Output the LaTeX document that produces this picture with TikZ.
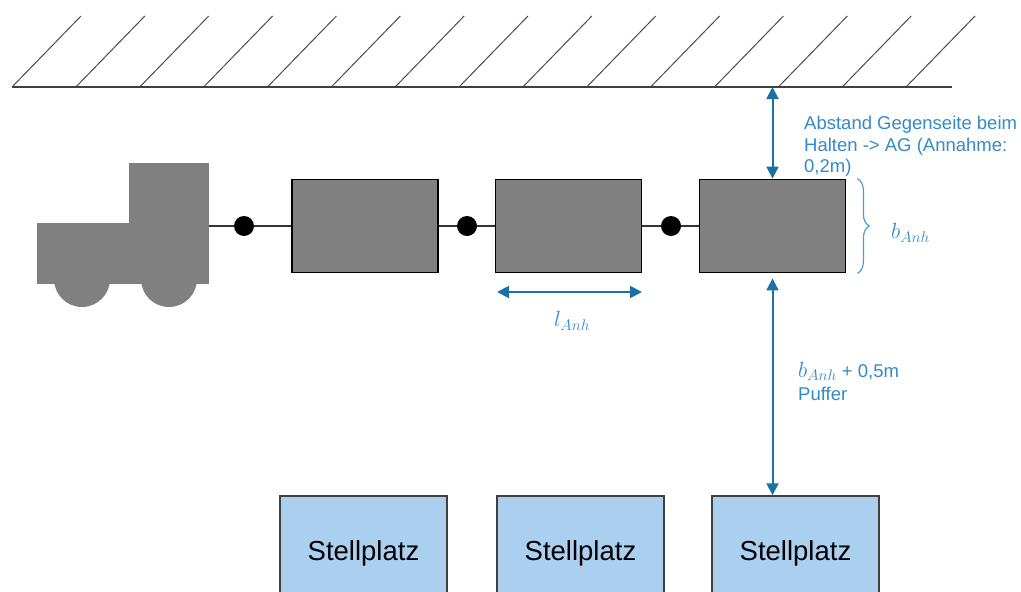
\RequirePackage{fix-cm}
\documentclass[tikz,border=0pt]{standalone}
\usepackage{fontspec}
\setmainfont{Liberation Sans}
\usetikzlibrary{arrows.meta,decorations.pathreplacing}
\definecolor{bodygrey}{RGB}{128,128,128}
\definecolor{dimblue}{RGB}{28,112,165}
\definecolor{labelblue}{RGB}{52,138,198}
\definecolor{bracecol}{RGB}{80,156,210}
\definecolor{slotfill}{RGB}{170,207,239}
\newcommand{\symsize}{\fontsize{22}{24}\selectfont}
\tikzset{
  trailer/.style={draw=black, line width=1.8pt, fill=bodygrey, inner sep=0pt,
    minimum width=146pt, minimum height=93pt},
  hitch/.style={circle, fill=black, inner sep=0pt, minimum size=20pt},
  coupling/.style={draw=black!80, line width=1.2pt},
  dimarrow/.style={draw=dimblue, line width=2pt,
    {Triangle[length=12pt,width=12pt]}-{Triangle[length=12pt,width=12pt]}},
  slot/.style={draw=black!75, line width=1.5pt, fill=slotfill, inner sep=0pt,
    minimum width=167pt, minimum height=114pt, font=\fontsize{27.5}{30}\selectfont},
  note/.style={text=labelblue, font=\fontsize{18.5}{21.5}\selectfont, align=left,
    inner sep=0pt, anchor=north west},
  symbol/.style={text=labelblue, font=\symsize, inner sep=0pt},
  hatch/.style={draw=black!70, line width=1pt}
}
\begin{document}
\begin{tikzpicture}[x=1pt,y=-1pt]
\clip (0,0) rectangle (1021,592);
\fill[white] (0,0) rectangle (1021,592);

% wall with hatching
\coordinate (g1) at (12,87);
\coordinate (g2) at (952,87);
\foreach \i in {0,...,14}
  \draw[hatch] ({12+63.86*\i},87) -- ({81+63.86*\i},16);
\draw[draw=black!75, line width=1.5pt] (g1) -- (g2);

% tractor
\fill[bodygrey] (37,223) rectangle (209,284);
\fill[bodygrey] (129,163) rectangle (209,224);
\fill[bodygrey] (82,279) circle[radius=28];
\fill[bodygrey] (169,279) circle[radius=28];
\coordinate (truck) at (209,226);

% trailers and hitches
\node[trailer] (t1) at (365,226) {};
\node[trailer] (t2) at (568.5,226) {};
\node[trailer] (t3) at (772.5,226) {};
\node[hitch] (d1) at (244,226) {};
\node[hitch] (d2) at (467,226) {};
\node[hitch] (d3) at (671,226) {};
\draw[coupling] (truck) -- (d1) -- (t1);
\draw[coupling] (t1) -- (d2) -- (t2);
\draw[coupling] (t2) -- (d3) -- (t3);

% parking slots
\node[slot] (s1) at (363.5,553) {Stellplatz};
\node[slot] (s2) at (580.5,553) {Stellplatz};
\node[slot] (s3) at (795.5,553) {Stellplatz};

% dimensions
\coordinate (gA) at (772.5,87);
\draw[dimarrow] (gA) -- (t3.north);
\draw[dimarrow, shorten <=5pt] (t3.south) -- (t3.south |- s3.north);
\coordinate (lA) at (497,292);
\coordinate (lB) at (642,292);
\draw[dimarrow] (lA) -- (lB);

\draw[draw=bracecol, line width=1.2pt, decorate,
  decoration={brace, amplitude=12pt, raise=11pt}]
  (t3.north east) -- (t3.south east);

% labels
\node[note] (n1) at (804,116) {Abstand Gegenseite beim\\Halten -> AG (Annahme:\\0,2m)};
\node[symbol, anchor=west] (n2) at (891,233) {$b_{Anh}$};
\node[symbol] (n3) at (572,321) {$l_{Anh}$};
\node[note, font=\fontsize{18.5}{23}\selectfont] (n4) at (798,362)
  {{\symsize$b_{Anh}$} + 0,5m\\Puffer};
\end{tikzpicture}
\end{document}
